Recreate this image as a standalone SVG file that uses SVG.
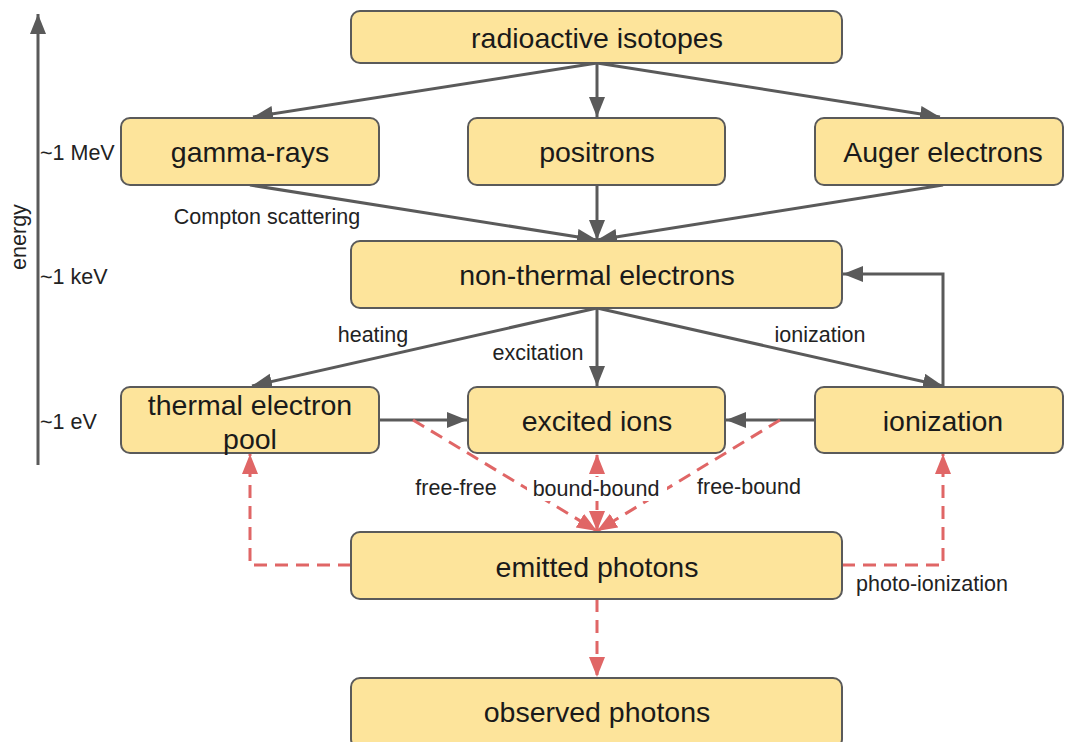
<svg xmlns="http://www.w3.org/2000/svg" width="1065" height="742" viewBox="0 0 1065 742">
<defs>
<marker id="ag" markerUnits="userSpaceOnUse" markerWidth="22" markerHeight="18" refX="20" refY="8" orient="auto-start-reverse" viewBox="0 0 22 18"><path d="M0,0 L20,8 L0,16 z" fill="#5a5a5a"/></marker>
<marker id="ar" markerUnits="userSpaceOnUse" markerWidth="22" markerHeight="18" refX="20" refY="8" orient="auto-start-reverse" viewBox="0 0 22 18"><path d="M0,0 L20,8 L0,16 z" fill="#e06666"/></marker>
</defs>
<style>
.box{fill:#fde49b;stroke:#5a5a5a;stroke-width:2}
.nt{font-family:"Liberation Sans",Arial,sans-serif;font-size:28.5px;fill:#1a1a1a;text-anchor:middle}
.lb{font-family:"Liberation Sans",Arial,sans-serif;font-size:21.5px;fill:#222;text-anchor:middle}
.g{fill:none;stroke:#5a5a5a;stroke-width:3;marker-end:url(#ag)}
.r{fill:none;stroke:#e06666;stroke-width:3;stroke-dasharray:13 8;marker-end:url(#ar)}
</style>
<rect width="1065" height="742" fill="#fff"/>
<g id="axis">
<line x1="38" y1="465" x2="38" y2="14" stroke="#5a5a5a" stroke-width="3" marker-end="url(#ag)"/>
<text class="lb" transform="translate(26,237) rotate(-90)">energy</text>
<text class="lb" x="40" y="160" style="text-anchor:start">~1 MeV</text>
<text class="lb" x="40" y="284" style="text-anchor:start">~1 keV</text>
<text class="lb" x="40" y="429" style="text-anchor:start">~1 eV</text>
</g>
<g id="connectors">
<line class="g" x1="597" y1="63" x2="253" y2="117"/>
<line class="g" x1="597" y1="63" x2="597" y2="117"/>
<line class="g" x1="597" y1="63" x2="940" y2="117"/>
<line class="g" x1="250" y1="185" x2="597" y2="240"/>
<line class="g" x1="597" y1="185" x2="597" y2="240"/>
<line class="g" x1="943" y1="185" x2="597" y2="240"/>
<line class="g" x1="597" y1="308" x2="252" y2="386"/>
<line class="g" x1="597" y1="308" x2="597" y2="386"/>
<line class="g" x1="597" y1="308" x2="943" y2="386"/>
<polyline class="g" points="943,387 943,274 843,274"/>
<line class="g" x1="379" y1="420" x2="467" y2="420"/>
<line class="g" x1="815" y1="420" x2="726" y2="420"/>
<line class="r" x1="413" y1="420" x2="597" y2="531"/>
<line class="r" x1="780" y1="420" x2="597" y2="531"/>
<line class="r" x1="597" y1="531" x2="597" y2="454" style="marker-start:url(#ar)"/>
<polyline class="r" points="351,565 250,565 250,454"/>
<polyline class="r" points="842,565 943,565 943,454"/>
<line class="r" x1="597" y1="599" x2="597" y2="677"/>
</g>
<g id="edge-labels">
<text class="lb" x="267" y="224">Compton scattering</text>
<text class="lb" x="373" y="342">heating</text>
<text class="lb" x="538" y="360">excitation</text>
<text class="lb" x="820" y="342">ionization</text>
<text class="lb" x="456" y="495">free-free</text>
<rect x="527" y="477" width="140" height="24" fill="#fff"/>
<text class="lb" x="596" y="496">bound-bound</text>
<text class="lb" x="749" y="494">free-bound</text>
<text class="lb" x="932" y="591">photo-ionization</text>
</g>
<g id="n-radioactive"><rect class="box" x="351" y="11" width="491" height="52" rx="9"/><text class="nt" x="597" y="48">radioactive isotopes</text></g>
<g id="n-gamma"><rect class="box" x="121" y="118" width="258" height="67" rx="9"/><text class="nt" x="250" y="162">gamma-rays</text></g>
<g id="n-positrons"><rect class="box" x="468" y="118" width="257" height="67" rx="9"/><text class="nt" x="597" y="162">positrons</text></g>
<g id="n-auger"><rect class="box" x="815" y="118" width="248" height="67" rx="9"/><text class="nt" x="943" y="162">Auger electrons</text></g>
<g id="n-nonthermal"><rect class="box" x="351" y="241" width="491" height="67" rx="9"/><text class="nt" x="597" y="285">non-thermal electrons</text></g>
<g id="n-thermal"><rect class="box" x="121" y="387" width="258" height="66" rx="9"/><text class="nt" x="250" y="415">thermal electron</text><text class="nt" x="250" y="449">pool</text></g>
<g id="n-excited"><rect class="box" x="468" y="387" width="257" height="66" rx="9"/><text class="nt" x="597" y="431">excited ions</text></g>
<g id="n-ionization"><rect class="box" x="815" y="387" width="248" height="66" rx="9"/><text class="nt" x="943" y="431">ionization</text></g>
<g id="n-emitted"><rect class="box" x="351" y="532" width="491" height="67" rx="9"/><text class="nt" x="597" y="577">emitted photons</text></g>
<g id="n-observed"><rect class="box" x="351" y="678" width="491" height="70" rx="9"/><text class="nt" x="597" y="722">observed photons</text></g>
</svg>
